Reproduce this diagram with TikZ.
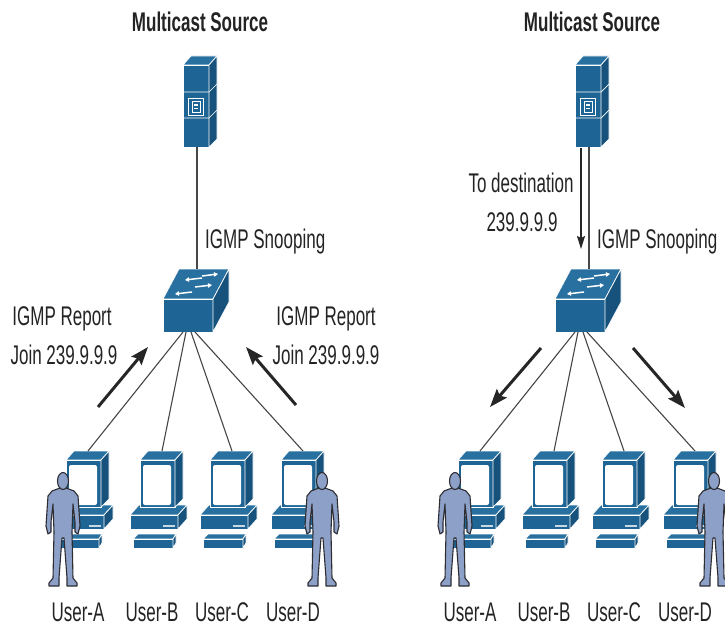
\documentclass[tikz,border=0pt]{standalone}
\usepackage{fontspec}
\setmainfont[FakeStretch=0.63]{Liberation Sans}
\usetikzlibrary{arrows.meta}

\definecolor{devfront}{RGB}{30,100,148}
\definecolor{devtop}{RGB}{40,112,160}
\definecolor{devside}{RGB}{22,82,124}
\definecolor{manfill}{RGB}{140,160,200}
\definecolor{manline}{RGB}{45,45,50}
\definecolor{ink}{RGB}{35,35,35}
\definecolor{wire}{RGB}{70,70,70}

\tikzset{
  face/.style={draw=white, line width=0.7pt, line join=round},
  txt/.style={font=\fontsize{27}{36}\selectfont, text=ink, inner sep=0pt},
  title/.style={txt, font=\fontsize{27}{36}\selectfont\bfseries},
  cable/.style={draw=wire, line width=1.1pt},
  bigarrow/.style={draw=black!85, line width=3pt,
    -{Stealth[length=18pt,width=13pt,inset=3pt]}},
  downarrow/.style={draw=black!85, line width=1.6pt,
    -{Stealth[length=13pt,width=8pt,inset=2pt]}},
  % tower server, origin = back edge of the top face
  server/.pic={
    \fill[devtop, face] (-5,0) -- (21,0) -- (13,9) -- (-13,9) -- cycle;
    \fill[devfront, face] (-13,9) rectangle (13,91);
    \fill[devside, face] (13,9) -- (21,0) -- (21,83) -- (13,91) -- cycle;
    \draw[white, line width=0.7pt] (-13,36) -- (13,36) -- (21,28);
    \draw[white, line width=0.7pt] (-13,62) -- (13,62) -- (21,54);
    \draw[white, line width=0.8pt] (-8,42) rectangle (7,59);
    \draw[white, line width=0.6pt] (-4,45) rectangle (4,56);
    \fill[white] (-2,48) rectangle (2,49.5);
    \fill[white] (-2,51.5) rectangle (2,53);
    \coordinate (-bottom) at (1,91);
  },
  % workgroup switch, origin = top centre of the front face
  switch/.pic={
    \fill[devtop, face] (-25,0) -- (-9,-30) -- (41,-30) -- (25,0) -- cycle;
    \fill[devfront, face] (-25,0) rectangle (25,33);
    \fill[devside, face] (25,0) -- (41,-30) -- (41,3) -- (25,33) -- cycle;
    \begin{scope}[white, line width=1.5pt, -{Triangle[length=4pt,width=4.5pt]}]
      \draw (14,-23) -- (30,-25);
      \draw (14,-21) -- (-3,-19);
      \draw (7,-12) -- (24,-14);
      \draw (4,-7) -- (-13,-5);
    \end{scope}
    \coordinate (-top) at (9,-30);
    \coordinate (-fanA) at (-5,33);
    \coordinate (-fanB) at (-2,33);
    \coordinate (-fanC) at (3,33);
    \coordinate (-fanD) at (7,33);
  },
  % desktop PC, origin = back top edge of the monitor
  pc/.pic={
    % base unit
    \fill[devtop, face] (-23,54) -- (25,54) -- (16,64) -- (-32,64) -- cycle;
    \fill[devfront, face] (-32,64) rectangle (16,78);
    \fill[devside, face] (16,64) -- (25,54) -- (25,68) -- (16,78) -- cycle;
    \fill[white!75!devfront] (1,73.5) rectangle (13,75.5);
    % keyboard
    \fill[devtop, face] (-24,83) -- (14,83) -- (11,88) -- (-29,88) -- cycle;
    \fill[devfront, face] (-29,88) rectangle (11,97);
    \fill[devside, face] (11,88) -- (14,83) -- (14,92) -- (11,97) -- cycle;
    % monitor
    \fill[devtop, face] (-14,0) -- (21,0) -- (13,9) -- (-22,9) -- cycle;
    \fill[devfront, face] (-22,9) rectangle (13,56);
    \fill[devside, face] (13,9) -- (21,0) -- (21,48) -- (13,56) -- cycle;
    \fill[white, rounded corners=2pt] (-19,14) rectangle (9,54);
    \coordinate (-top) at (0,0);
  },
  % standing user, origin = top of the head
  person/.pic={
    \filldraw[fill=manfill, draw=manline, line width=1.1pt, line join=round]
      (-3,16) -- (-11,19) -- (-15,24) -- (-17,54) -- (-15,62) -- (-12,60)
      -- (-12,50) -- (-10,32) -- (-9,60) -- (-10,106) -- (-14,111)
      -- (-14,114) -- (-4,114) -- (-4,106) -- (-1,66) -- (1,66) -- (4,106)
      -- (4,114) -- (14,114) -- (14,111) -- (10,106) -- (9,60) -- (10,32)
      -- (12,50) -- (12,60) -- (15,62) -- (17,54) -- (15,24) -- (11,19)
      -- (3,16) -- cycle;
    \filldraw[fill=manfill, draw=manline, line width=1.1pt]
      (0,9) ellipse [x radius=5.5, y radius=8.5];
  },
}

\begin{document}
\begin{tikzpicture}[x=1pt, y=-1pt]
  \useasboundingbox (0,0) rectangle (725,634);
  \clip (0,0) rectangle (725,634);

  % the two network panels share the same layout
  \foreach \p/\dx in {L/0, R/392}{
    \begin{scope}[xshift=\dx]
      \node[title] (title\p) at (200,22) {Multicast Source};
      \pic (srv\p) at (196,56) {server};
      \pic (sw\p) at (188,299) {switch};
      \draw[cable] (srv\p-bottom) -- (sw\p-top);
      \node[txt, anchor=west] (snoop\p) at (205,242) {IGMP Snooping};
      \foreach \u/\cx in {A/88, B/162, C/232, D/303}{
        \pic (pc\p\u) at (\cx,451) {pc};
        \draw[cable] (sw\p-fan\u) -- (pc\p\u-top);
        \node[txt] (user\p\u) at (\cx-10,612) {User-\u};
      }
      \pic (man\p A) at (63,472) {person};
      \pic (man\p D) at (322,472) {person};
    \end{scope}
  }

  % left: hosts send reports up to the switch
  \node[txt] (reportLA) at (62,319) {IGMP Report};
  \node[txt] (joinLA) at (64,355) {Join 239.9.9.9};
  \node[txt] (reportLD) at (326,319) {IGMP Report};
  \node[txt] (joinLD) at (326,355) {Join 239.9.9.9};
  \coordinate (upAtail) at (98,407);
  \coordinate (upAtip) at (148,347);
  \coordinate (upDtail) at (296,405);
  \coordinate (upDtip) at (246,347);
  \draw[bigarrow] (upAtail) -- (upAtip);
  \draw[bigarrow] (upDtail) -- (upDtip);

  % right: traffic forwarded only to the joined hosts
  \node[txt] (destR) at (521,183) {To destination};
  \node[txt] (grpR) at (522,222) {239.9.9.9};
  \coordinate (dnTail) at (581,148);
  \coordinate (dnTip) at (581,249);
  \draw[downarrow] (dnTail) -- (dnTip);
  \coordinate (outAtail) at (541,348);
  \coordinate (outAtip) at (490,407);
  \coordinate (outDtail) at (633,348);
  \coordinate (outDtip) at (685,408);
  \draw[bigarrow] (outAtail) -- (outAtip);
  \draw[bigarrow] (outDtail) -- (outDtip);
\end{tikzpicture}
\end{document}
